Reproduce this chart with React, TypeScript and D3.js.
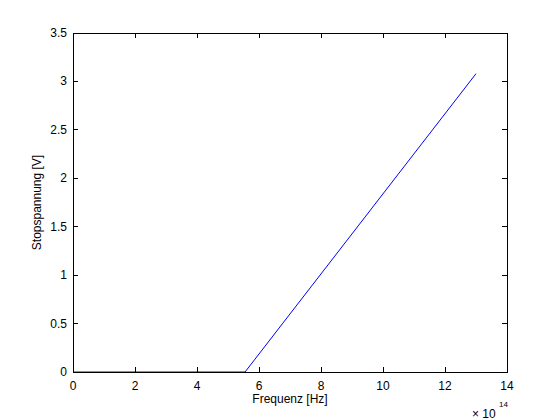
import React from "react";
import * as d3 from "d3";

const freq = [0, 5.55, 13]; // ×10^14 Hz
const volts = [0, 0, 3.08];
const xTicks = [0, 2, 4, 6, 8, 10, 12, 14];
const yTicks = [0, 0.5, 1, 1.5, 2, 2.5, 3, 3.5];

export default function App() {
  const W = 560, H = 420;
  const L = 73, R = 507, T = 33, B = 372;
  const x = d3.scaleLinear().domain([0, 14]).range([L, R]);
  const y = d3.scaleLinear().domain([0, 3.5]).range([B, T]);
  const line = d3.line<number>().x((d, i) => x(freq[i])).y((d) => y(d));
  const font = "'Liberation Sans', Arial, Helvetica, sans-serif";
  const tl = 5;
  const fs = 12;
  return (
    <svg width={W} height={H} style={{ position: "absolute", left: 0, top: 0, background: "#fff" }} fontFamily={font}>
      <rect x={0} y={0} width={W} height={H} fill="#fff" />
      <path d={line(volts) || ""} fill="none" stroke="#0000ff" strokeWidth={1} />
      <rect x={L} y={T} width={R - L} height={B - T} fill="none" stroke="#000" strokeWidth={1} shapeRendering="crispEdges" />
      {xTicks.map((t) => (
        <g key={"x" + t}>
          <line x1={x(t)} x2={x(t)} y1={B} y2={B - tl} stroke="#000" shapeRendering="crispEdges" />
          <line x1={x(t)} x2={x(t)} y1={T} y2={T + tl} stroke="#000" shapeRendering="crispEdges" />
          <text x={x(t)} y={B + 18} fontSize={fs} textAnchor="middle">{t}</text>
        </g>
      ))}
      {yTicks.map((t) => (
        <g key={"y" + t}>
          <line x1={L} x2={L + tl} y1={y(t)} y2={y(t)} stroke="#000" shapeRendering="crispEdges" />
          <line x1={R} x2={R - tl} y1={y(t)} y2={y(t)} stroke="#000" shapeRendering="crispEdges" />
          <text x={L - 6} y={y(t) + 4} fontSize={fs} textAnchor="end">{t}</text>
        </g>
      ))}
      <text x={(L + R) / 2} y={403} fontSize={fs} textAnchor="middle">Frequenz [Hz]</text>
      <text x={0} y={0} fontSize={fs} textAnchor="middle" transform={`translate(41, ${(T + B) / 2}) rotate(-90)`}>Stopspannung [V]</text>
      <text x={472} y={418} fontSize={fs}>× 10</text>
      <text x={499} y={407} fontSize={8}>14</text>
    </svg>
  );
}
